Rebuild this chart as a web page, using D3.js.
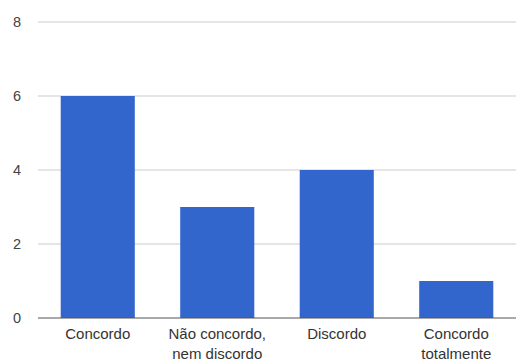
<!DOCTYPE html>
<html><head><meta charset="utf-8">
<script src="https://cdn.jsdelivr.net/npm/d3@7"></script>
<style>html,body{margin:0;padding:0;background:#fff;}svg{display:block;}</style>
</head><body>
<script>
const categories = [["Concordo"], ["Não concordo,", "nem discordo"], ["Discordo"], ["Concordo", "totalmente"]];
const values = [6, 3, 4, 1];
const yTicks = [0, 2, 4, 6, 8];

const W = 516, H = 361;
const svg = d3.select("body").append("svg").attr("width", W).attr("height", H);
const x = d3.scaleBand().domain(d3.range(categories.length)).range([38, 516]).paddingInner(0.38).paddingOuter(0.19);
const y = d3.scaleLinear().domain([0, 8]).range([318, 22]);

const font = "'Liberation Sans', Arial, sans-serif";

// gridlines
svg.append("g").selectAll("line").data(yTicks.filter(d => d !== 0)).join("line")
  .attr("x1", 38).attr("x2", 516)
  .attr("y1", d => y(d)).attr("y2", d => y(d))
  .attr("stroke", "#dcdcdc").attr("stroke-width", 1.5);

// y labels
svg.append("g").selectAll("text").data(yTicks).join("text")
  .attr("x", 21).attr("y", d => y(d)).attr("dy", "0.35em")
  .attr("text-anchor", "end").attr("font-family", font).attr("font-size", 14.5)
  .attr("fill", "#444").text(d => d);

// bars
svg.append("g").selectAll("rect").data(values).join("rect")
  .attr("x", (d, i) => x(i)).attr("width", x.bandwidth())
  .attr("y", d => y(d)).attr("height", d => y(0) - y(d))
  .attr("fill", "#3366cc");

// baseline
svg.append("line").attr("x1", 38).attr("x2", 516).attr("y1", y(0)).attr("y2", y(0))
  .attr("stroke", "#555").attr("stroke-width", 1.2);

// x labels
const xl = svg.append("g").selectAll("text").data(categories).join("text")
  .attr("text-anchor", "middle").attr("font-family", font).attr("font-size", 15)
  .attr("fill", "#333");
xl.each(function(lines, i) {
  d3.select(this).selectAll("tspan").data(lines).join("tspan")
    .attr("x", x(i) + x.bandwidth() / 2)
    .attr("y", (d, j) => 339 + j * 20)
    .text(d => d);
});
</script>
</body></html>
